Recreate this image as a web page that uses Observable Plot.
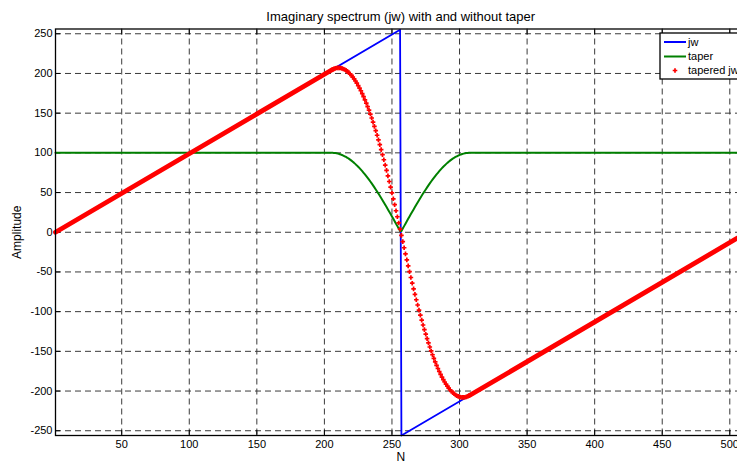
<!DOCTYPE html>
<html>
<head>
<meta charset="utf-8">
<script src="https://cdn.jsdelivr.net/npm/d3@7"></script>
<script src="https://cdn.jsdelivr.net/npm/@observablehq/plot@0.6"></script>
<style>
  html, body { margin: 0; padding: 0; background: #fff; }
  body { width: 737px; height: 462px; overflow: hidden; position: relative; }
  #chart { width: 800px; }
  #chart svg { display: block; max-width: none !important; width: 800px; height: 462px; }
</style>
</head>
<body>
<div id="chart"></div>
<script>
// Imaginary part of the spectrum: untapered jw, the taper window and the product.
const xTicks = [50, 100, 150, 200, 250, 300, 350, 400, 450, 500];
const yTicks = [-250, -200, -150, -100, -50, 0, 50, 100, 150, 200, 250];

// jw: linear ramp up to N = 256, wraps to -256 at N = 257, ramps back to -1
const jwN = [1, 256, 257, 512];
const jwV = [0, 255, -256, -1];

// taper: flat 100 outside the dip, the dip covers N = 206 .. 307
const flatN = [1, 512];
const flatV = [100, 100];
const dipStart = 206;
const taperDip = [
  100.0, 99.9, 99.7, 99.4, 99.0, 98.6, 98.0, 97.3, 96.6, 95.7,
  94.8, 93.8, 92.7, 91.5, 90.2, 88.8, 87.4, 85.8, 84.2, 82.5,
  80.7, 78.8, 76.9, 74.9, 72.9, 70.7, 68.5, 66.2, 63.9, 61.5,
  59.0, 56.5, 53.9, 51.3, 48.7, 45.9, 43.2, 40.4, 37.6, 34.7,
  31.8, 28.8, 25.9, 22.9, 19.9, 16.9, 13.8, 10.8, 7.7, 4.6, 1.5,
  1.5, 4.6, 7.7, 10.8, 13.8, 16.9, 19.9, 22.9, 25.9, 28.8,
  31.8, 34.7, 37.6, 40.4, 43.2, 45.9, 48.7, 51.3, 53.9, 56.5,
  59.0, 61.5, 63.9, 66.2, 68.5, 70.7, 72.9, 74.9, 76.9, 78.8,
  80.7, 82.5, 84.2, 85.8, 87.4, 88.8, 90.2, 91.5, 92.7, 93.8,
  94.8, 95.7, 96.6, 97.3, 98.0, 98.6, 99.0, 99.4, 99.7, 99.9, 100.0
];

// tapered jw inside the dip (N = 206 .. 307)
const taperedDip = [
  205.0, 205.8, 206.4, 206.8, 207.0, 207.0, 206.8, 206.4, 205.7, 204.9,
  203.9, 202.6, 201.1, 199.4, 197.5, 195.4, 193.1, 190.5, 187.8, 184.8,
  181.6, 178.2, 174.6, 170.8, 166.8, 162.6, 158.2, 153.7, 148.9, 143.9,
  138.7, 133.4, 127.9, 122.2, 116.3, 110.3, 104.1, 97.7, 91.3, 84.6,
  77.9, 71.0, 63.9, 56.8, 49.5, 42.1, 34.7, 27.1, 19.5, 11.7, 3.9,
  -3.9, -11.8, -19.5, -27.2, -34.8, -42.3, -49.7, -57.0, -64.2, -71.3,
  -78.2, -85.0, -91.6, -98.1, -104.5, -110.7, -116.8, -122.7, -128.4, -134.0,
  -139.3, -144.5, -149.5, -154.3, -158.9, -163.3, -167.6, -171.6, -175.4, -179.0,
  -182.4, -185.6, -188.6, -191.4, -193.9, -196.3, -198.4, -200.3, -202.0, -203.5,
  -204.8, -205.9, -206.7, -207.3, -207.8, -208.0, -208.0, -207.8, -207.4, -206.8, -206.0
];
// tapered jw on the untouched ramps (equal to jw there)
const rampN = [1, 206, 307, 512];
const rampV = [0, 205.0, -206.0, -1];
const rampSeg = ["left", "left", "right", "right"];

const jwData = jwN.map((n, i) => ({N: n, v: jwV[i]}));
const taperData = [
  {N: flatN[0], v: flatV[0]},
  ...taperDip.map((v, i) => ({N: dipStart + i, v})),
  {N: flatN[1], v: flatV[1]}
];
const taperedData = taperedDip.map((v, i) => ({N: dipStart + i, v}));
const rampData = rampN.map((n, i) => ({N: n, v: rampV[i], seg: rampSeg[i]}));

const font = "'Liberation Sans', Arial, Helvetica, sans-serif";
const gridStroke = "#3a3a3a";
const plain = (d) => String(d);

const plot = Plot.plot({
  width: 800,
  height: 462,
  marginLeft: 55,
  marginRight: 54.5,
  marginTop: 28.5,
  marginBottom: 27,
  style: {fontFamily: font, fontSize: "11px", color: "#000", background: "#fff"},
  x: {domain: [1, 512]},
  y: {domain: [-256, 256]},
  marks: [
    Plot.gridX(xTicks, {stroke: gridStroke, strokeOpacity: 1, strokeDasharray: "6,4"}),
    Plot.gridY(yTicks, {stroke: gridStroke, strokeOpacity: 1, strokeDasharray: "6,4"}),
    // inward tick marks
    Plot.axisX(xTicks, {anchor: "bottom", tickSize: -5, text: null, label: null}),
    Plot.axisX(xTicks, {anchor: "top", tickSize: -5, text: null, label: null}),
    Plot.axisY(yTicks, {anchor: "left", tickSize: -5, text: null, label: null}),
    // tick labels
    Plot.axisX(xTicks, {anchor: "bottom", tickSize: 0, tickPadding: 5, tickFormat: plain, label: null, fontSize: 11}),
    Plot.axisY(yTicks, {anchor: "left", tickSize: 0, tickPadding: 3, tickFormat: plain, label: null, fontSize: 11}),
    // axis titles
    Plot.axisX(xTicks, {anchor: "bottom", tickSize: 0, text: null, label: "N", labelAnchor: "center", labelArrow: "none", labelOffset: 25, fontSize: 12}),
    Plot.axisY(yTicks, {anchor: "left", tickSize: 0, text: null, label: "Amplitude", labelAnchor: "center", labelArrow: "none", labelOffset: 43, fontSize: 12}),
    Plot.line(jwData, {x: "N", y: "v", stroke: "#0000ff", strokeWidth: 1.8}),
    Plot.line(taperData, {x: "N", y: "v", stroke: "#008000", strokeWidth: 2}),
    Plot.line(rampData, {x: "N", y: "v", z: "seg", stroke: "#ff0000", strokeWidth: 4.8}),
    Plot.dot(taperedData, {x: "N", y: "v", symbol: "plus", r: 1.6, stroke: "#ff0000", strokeWidth: 1.7}),
    Plot.frame({stroke: "#000", strokeWidth: 1.3}),
    Plot.text(["Imaginary spectrum (jw) with and without taper"], {frameAnchor: "top", dy: -17, fontSize: 13})
  ]
});
document.getElementById("chart").appendChild(plot);

// legend box in the upper right corner
const svg = d3.select(plot);
const lg = svg.append("g").attr("font-family", font).attr("font-size", 11).attr("text-anchor", "start");
lg.append("rect").attr("x", 660).attr("y", 33).attr("width", 110).attr("height", 46)
  .attr("fill", "#fff").attr("stroke", "#000").attr("stroke-width", 1.3);
const entries = [
  {label: "jw", color: "#0000ff", kind: "line", y: 42},
  {label: "taper", color: "#008000", kind: "line", y: 56.5},
  {label: "tapered jw", color: "#ff0000", kind: "marker", y: 70.5}
];
for (const e of entries) {
  if (e.kind === "line") {
    lg.append("line").attr("x1", 664).attr("x2", 686).attr("y1", e.y).attr("y2", e.y)
      .attr("stroke", e.color).attr("stroke-width", 2);
  } else {
    lg.append("path").attr("transform", `translate(675,${e.y})`)
      .attr("d", d3.symbol(d3.symbolPlus, 8)())
      .attr("fill", "none").attr("stroke", e.color).attr("stroke-width", 1.7);
  }
  lg.append("text").attr("x", 688).attr("y", e.y).attr("dy", "0.35em")
    .attr("text-anchor", "start").text(e.label);
}
</script>
</body>
</html>
